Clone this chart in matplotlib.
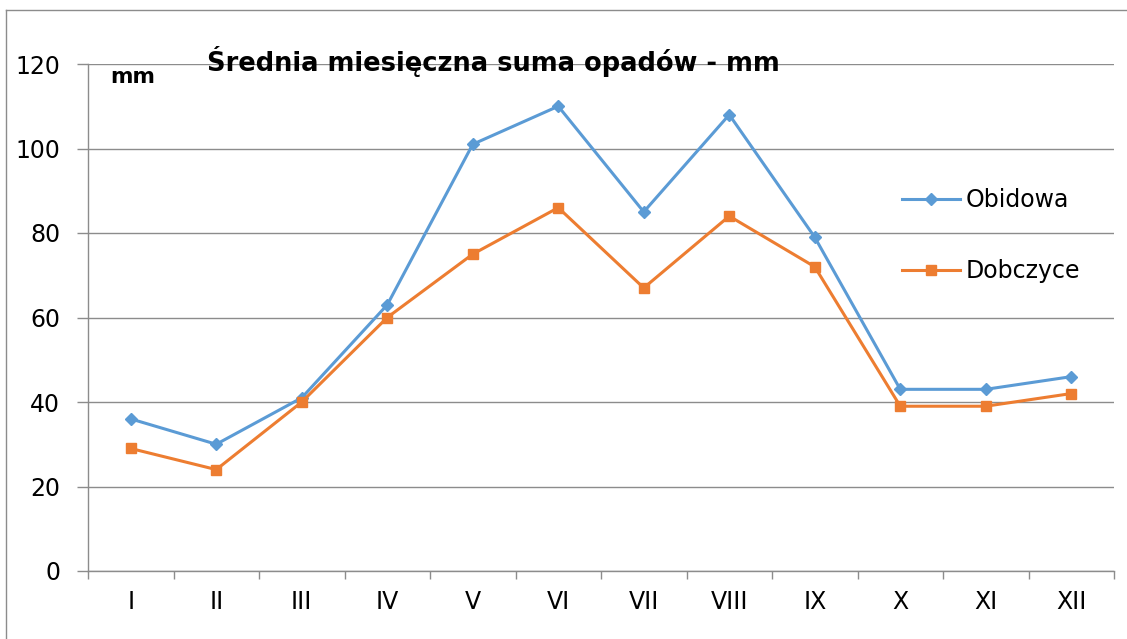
import matplotlib
matplotlib.use("Agg")
import matplotlib.pyplot as plt
from matplotlib.lines import Line2D

plt.rcParams['font.family'] = ['DejaVu Sans']

months = ["I", "II", "III", "IV", "V", "VI", "VII", "VIII", "IX", "X", "XI", "XII"]
obidowa = [36, 30, 41, 63, 101, 110, 85, 108, 79, 43, 43, 46]
dobczyce = [29, 24, 40, 60, 75, 86, 67, 84, 72, 39, 39, 42]
yticks = [0, 20, 40, 60, 80, 100, 120]

W, H = 1127, 639
fig = plt.figure(figsize=(W / 100, H / 100), dpi=100)
ax = fig.add_axes([88 / W, 1 - 571 / H, (1114 - 88) / W, (571 - 64) / H])

blue = "#5B9BD5"
orange = "#ED7D31"
grid = "#8C8C8C"

x = list(range(len(months)))
ax.plot(x, obidowa, color=blue, lw=2.2, marker="D", ms=6.5, label="Obidowa", zorder=3)
ax.plot(x, dobczyce, color=orange, lw=2.2, marker="s", ms=7.5, label="Dobczyce", zorder=3)

ax.set_xlim(-0.5, 11.5)
ax.set_ylim(0, 120)
ax.set_yticks(yticks)
ax.set_yticklabels([str(v) for v in yticks], fontsize=17)
ax.set_xticks(x)
ax.set_xticklabels(months, fontsize=17)
ax.set_xticks([i - 0.5 for i in range(13)], minor=True)
ax.tick_params(axis="x", which="major", length=0, pad=14)
ax.tick_params(axis="x", which="minor", length=6, color=grid, width=1)
ax.tick_params(axis="y", length=8, color=grid, width=1, pad=12, direction="out")
ax.yaxis.grid(True, color=grid, lw=1)
ax.set_axisbelow(True)
for s in ["top", "right"]:
    ax.spines[s].set_visible(False)
for s in ["left", "bottom"]:
    ax.spines[s].set_color(grid)
    ax.spines[s].set_linewidth(1)

fig.text(207 / W, 1 - 71 / H, "Średnia miesięczna suma opadów - mm", fontsize=18.5,
         fontweight="bold", ha="left", va="baseline")
fig.text(110 / W, 1 - 83 / H, "mm", fontsize=15.5, fontweight="bold", ha="left", va="baseline")

leg = ax.legend(loc="upper left", bbox_to_anchor=(881 / W, 1 - 167 / H),
                bbox_transform=fig.transFigure, frameon=False, fontsize=17,
                labelspacing=1.98, handlelength=2.45, handletextpad=0.25)

# outer chart frame
fig.add_artist(Line2D([6 / W, 6 / W], [0, 1 - 10 / H], transform=fig.transFigure, color="#8C8C8C", lw=1))
fig.add_artist(Line2D([6 / W, 1], [1 - 10 / H, 1 - 10 / H], transform=fig.transFigure, color="#8C8C8C", lw=1))

fig.savefig("out.png", dpi=100)
